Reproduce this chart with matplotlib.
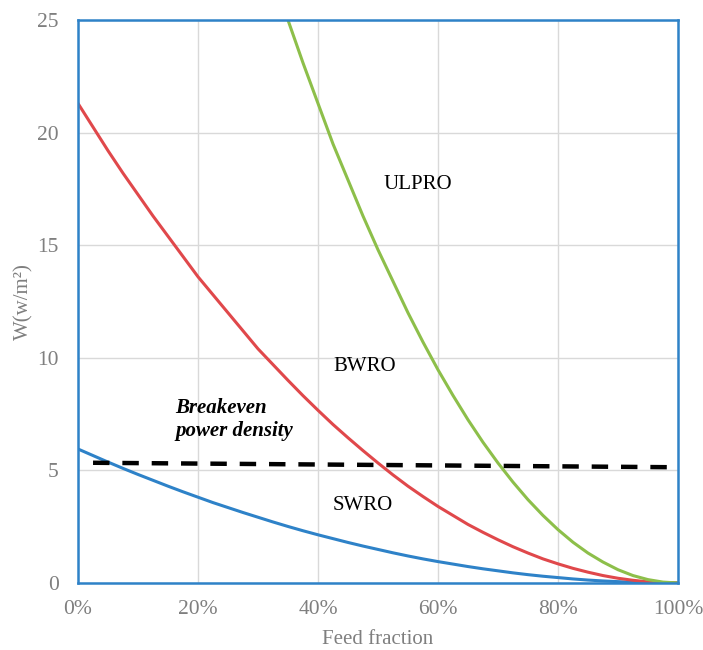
import numpy as np
import matplotlib
matplotlib.use("Agg")
import matplotlib.pyplot as plt
from matplotlib.ticker import FuncFormatter

# feed fraction (%) and power density W (w/m2)
feed = [0, 2.5, 5, 7.5, 10, 12.5, 15, 17.5, 20, 22.5, 25, 27.5, 30, 32.5, 35, 37.5,
        40, 42.5, 45, 47.5, 50, 52.5, 55, 57.5, 60, 62.5, 65, 67.5, 70, 72.5, 75,
        77.5, 80, 82.5, 85, 87.5, 90, 92.5, 95, 97.5, 100]
swro = [5.95, 5.66, 5.37, 5.09, 4.82, 4.56, 4.30, 4.05, 3.81, 3.57, 3.35, 3.13,
        2.92, 2.71, 2.51, 2.32, 2.14, 1.97, 1.80, 1.64, 1.49, 1.34, 1.20, 1.07,
        0.95, 0.84, 0.73, 0.63, 0.54, 0.45, 0.37, 0.30, 0.24, 0.18, 0.13, 0.09,
        0.06, 0.03, 0.015, 0.004, 0.0]
bwro = [21.3, 20.25, 19.2, 18.2, 17.25, 16.3, 15.4, 14.5, 13.6, 12.8, 12.0, 11.2,
        10.4, 9.7, 9.0, 8.32, 7.67, 7.04, 6.45, 5.88, 5.33, 4.8, 4.3, 3.84,
        3.4, 3.0, 2.6, 2.25, 1.92, 1.61, 1.33, 1.07, 0.85, 0.65, 0.48, 0.33,
        0.21, 0.12, 0.05, 0.01, 0.0]

feed_ulpro = [35, 37.5, 40, 42.5, 45, 47.5, 50, 52.5, 55, 57.5, 60, 62.5, 65, 67.5,
              70, 72.5, 75, 77.5, 80, 82.5, 85, 87.5, 90, 92.5, 95, 97.5, 100]
ulpro = [25.0, 23.1, 21.3, 19.5, 17.9, 16.3, 14.8, 13.4, 12.0, 10.7, 9.47, 8.33,
         7.25, 6.25, 5.33, 4.48, 3.7, 3.0, 2.37, 1.81, 1.33, 0.93, 0.59, 0.33, 0.15,
         0.04, 0.0]

breakeven_x = [2.5, 100]
breakeven_y = [5.34, 5.14]

plt.rcParams['font.family'] = ['Liberation Serif', 'DejaVu Serif']

fig = plt.figure(figsize=(7.03, 6.5), dpi=100)
ax = fig.add_axes([0.111, 0.1031, 0.8534, 0.8659])

ax.plot(feed, swro, color='#2E82C8', lw=2.2, solid_joinstyle='round')
ax.plot(feed, bwro, color='#E0484B', lw=2.2, solid_joinstyle='round')
ax.plot(feed_ulpro, ulpro, color='#8DBF4A', lw=2.2, solid_joinstyle='round')
ax.plot(breakeven_x, breakeven_y, color='black', lw=3.2, dashes=(3.7, 2.9))

ax.set_xlim(0, 100)
ax.set_ylim(0, 25)
ax.set_xticks(np.arange(0, 101, 20))
ax.set_yticks(np.arange(0, 26, 5))
ax.xaxis.set_major_formatter(FuncFormatter(lambda v, p: f"{v:.0f}%"))
ax.grid(True, color='#d9d9d9', lw=1)
ax.set_axisbelow(True)
ax.tick_params(length=0, labelsize=15.5, labelcolor='#7f7f7f')
ax.tick_params(axis='x', pad=12)
ax.tick_params(axis='y', pad=14)

for s in ax.spines.values():
    s.set_color('#2E82C8')
    s.set_linewidth(1.8)

ax.set_xlabel('Feed fraction', fontsize=15, color='#7f7f7f', labelpad=8)
ax.set_ylabel('W(w/m²)', fontsize=15, color='#7f7f7f')
ax.yaxis.set_label_coords(-0.075, 0.5)

ax.text(56.7, 17.7, 'ULPRO', fontsize=15, ha='center', va='center')
ax.text(47.7, 9.6, 'BWRO', fontsize=15, ha='center', va='center')
ax.text(47.5, 3.46, 'SWRO', fontsize=15, ha='center', va='center')
ax.text(16.2, 7.25, 'Breakeven\npower density', fontsize=15, ha='left',
        va='center', fontweight='bold', fontstyle='italic', linespacing=1.2)

fig.savefig('out.png', dpi=100)
